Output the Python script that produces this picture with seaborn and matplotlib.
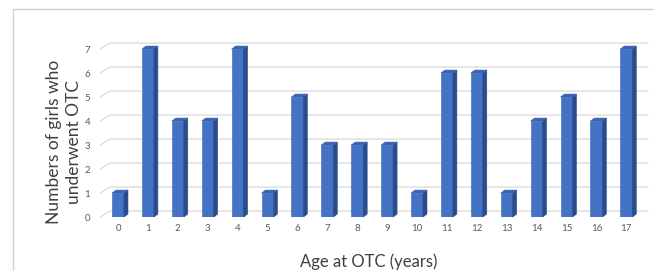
import pandas as pd
import matplotlib.pyplot as plt
import seaborn as sns
from matplotlib.patches import Polygon
from matplotlib.lines import Line2D

# Data
ages = [str(a) for a in range(18)]
girls = [1, 7, 4, 4, 7, 1, 5, 3, 3, 3, 1, 6, 6, 1, 4, 5, 4, 7]
y_ticks = list(range(8))

df = pd.DataFrame({'age': ages, 'girls': girls})

sns.set_style('white')
plt.rcParams['font.family'] = ['Lato', 'DejaVu Sans']

front_col = '#4472C4'
side_col = '#2B4C8C'
top_col = '#3A63B0'
grid_col = '#D9D9D9'
tick_col = '#595959'

fig = plt.figure(figsize=(6.54, 2.71), dpi=100)
ax = fig.add_axes([0.153, 0.199, 0.838, 0.690])

sns.barplot(data=df, x='age', y='girls', order=ages, color=front_col,
            width=0.4, saturation=1, ax=ax, zorder=3)

# 3D depth of the bars (data units)
dx, dy = 0.134, 0.125
for p in ax.patches:
    x0 = p.get_x()
    x1 = x0 + p.get_width()
    h = p.get_height()
    p.set_edgecolor('#3863B3')
    p.set_linewidth(0.4)
    side = Polygon([(x1, 0), (x1 + dx, dy), (x1 + dx, h + dy), (x1, h)],
                   closed=True, facecolor=side_col, edgecolor=side_col,
                   linewidth=0.4, zorder=3)
    top = Polygon([(x0, h), (x0 + dx, h + dy), (x1 + dx, h + dy), (x1, h)],
                  closed=True, facecolor=top_col, edgecolor=top_col,
                  linewidth=0.4, zorder=3)
    ax.add_patch(side)
    ax.add_patch(top)

xmin, xmax = -0.60, 17.73
ax.set_xlim(xmin, xmax)
ax.set_ylim(0, 7.79)

# back wall gridlines with slanted side-wall segment
wall_dx, wall_dy = 0.33, 0.25
for k in y_ticks:
    ax.plot([xmin, xmin + wall_dx, xmax], [k, k + wall_dy, k + wall_dy],
            color=grid_col, linewidth=0.9, zorder=1, clip_on=False)

for s in ax.spines.values():
    s.set_visible(False)
ax.set_yticks(y_ticks)
ax.tick_params(axis='both', length=0, labelsize=7, labelcolor=tick_col)
ax.tick_params(axis='y', pad=7)
ax.tick_params(axis='x', pad=5)
ax.set_xlabel('')
ax.set_ylabel('')

fig.text(0.563, 0.033, 'Age at OTC (years)', ha='center', va='center',
         fontsize=12, color='#404040')
fig.text(0.098, 0.478, 'Numbers of girls who\nunderwent OTC', ha='center',
         va='center', rotation=90, fontsize=12.5, color='#404040',
         linespacing=1.3)

# outer chart border (partly cropped)
fig.add_artist(Line2D([13 / 654, 1.0], [1 - 9 / 271, 1 - 9 / 271],
                      color='#D0D0D0', linewidth=1.0))
fig.add_artist(Line2D([13 / 654, 13 / 654], [0.0, 1 - 9 / 271],
                      color='#D0D0D0', linewidth=1.0))

fig.savefig('out.png', dpi=100)
